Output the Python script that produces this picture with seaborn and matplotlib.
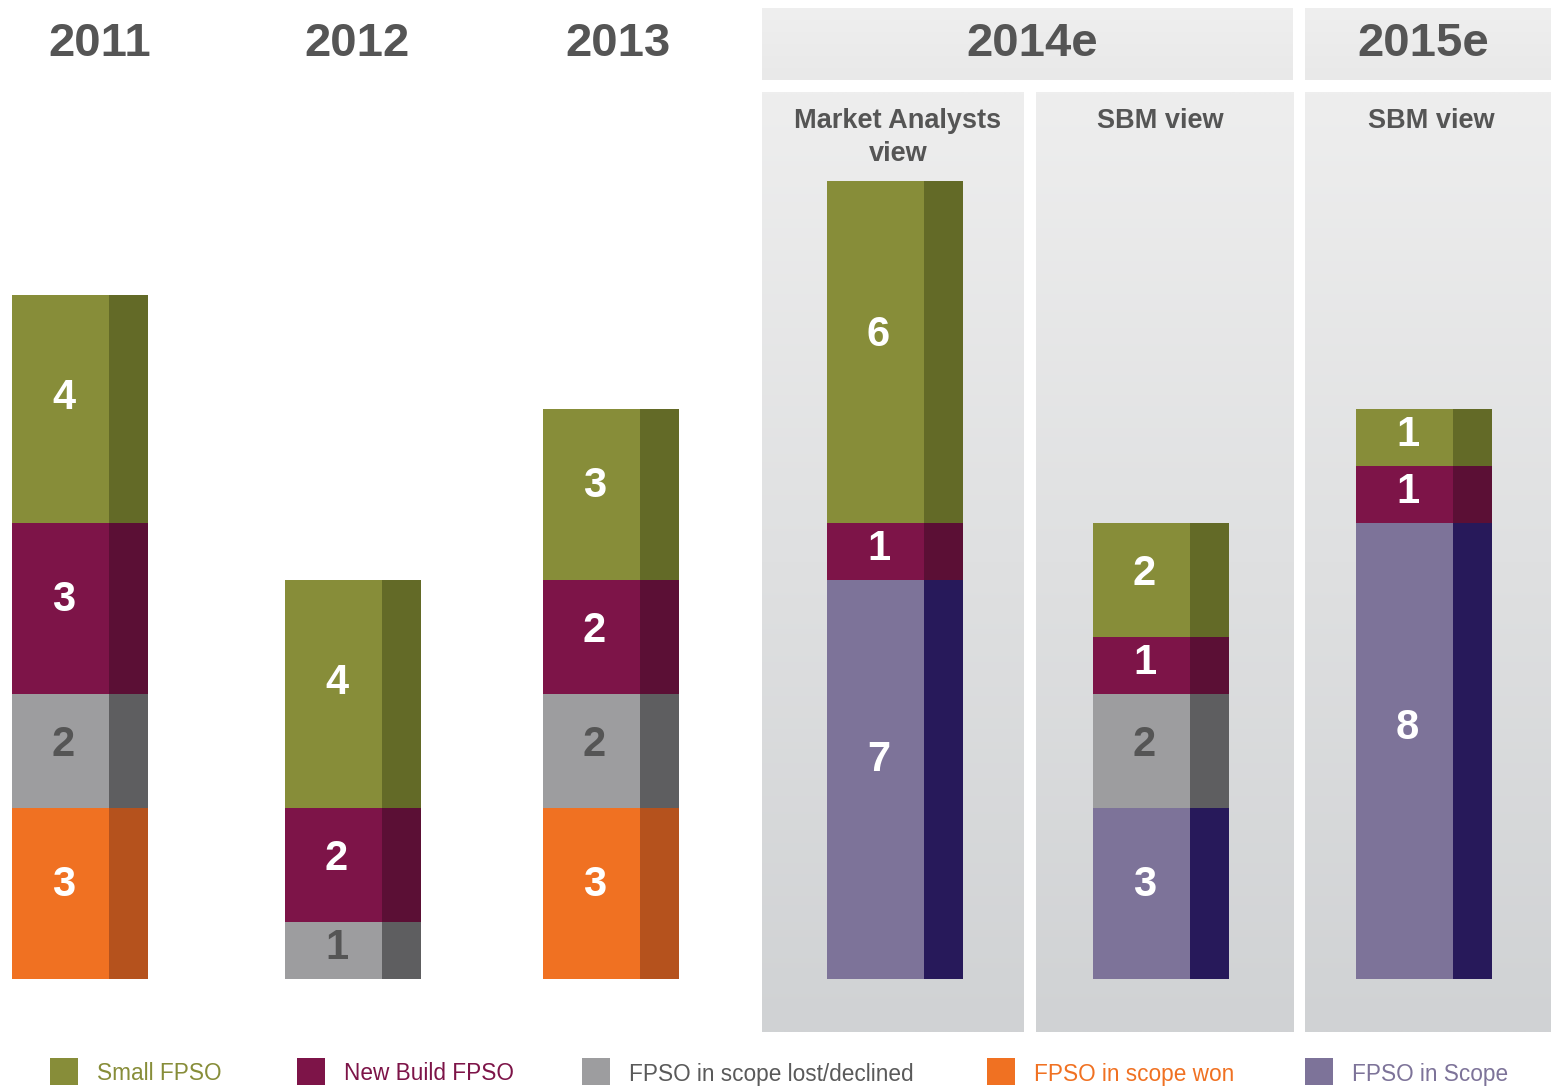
import numpy as np
import pandas as pd
import matplotlib
matplotlib.use("Agg")
import matplotlib.pyplot as plt
from matplotlib.patches import Rectangle
import seaborn as sns

# ---- data -------------------------------------------------------------
groups = ["2011", "2012", "2013", "2014e MA", "2014e SBM", "2015e SBM"]
in_scope = [0, 0, 0, 7, 3, 8]
won = [3, 0, 3, 0, 0, 0]
lost = [2, 1, 2, 0, 2, 0]
new_build = [3, 2, 2, 1, 1, 1]
small = [4, 4, 3, 6, 2, 1]

layer_names = ["FPSO in Scope", "FPSO in scope won", "FPSO in scope lost/declined",
               "New Build FPSO", "Small FPSO"]
layer_values = [in_scope, won, lost, new_build, small]
front_colors = ["#7d7399", "#f07122", "#9d9d9f", "#7d1448", "#878d39"]
side_colors = ["#27195a", "#b5521d", "#5e5e60", "#5b0f35", "#636a27"]
label_colors = ["white", "white", "#555555", "white", "white"]

legend_order = [4, 3, 2, 1, 0]
legend_text_colors = ["#7d7399", "#f07122", "#5a5a5a", "#7d1448", "#878d39"]

year_labels = ["2011", "2012", "2013"]
period_labels = ["2014e", "2015e"]
view_labels = ["Market Analysts\nview", "SBM view", "SBM view"]

# ---- layout (pixels) --------------------------------------------------
W, H = 1551, 1090
group_centers = np.array([80, 353, 611, 895, 1161, 1424], dtype=float)
px_per_unit = 57.0
baseline_px = 979.0

# ---- figure -----------------------------------------------------------
sns.set_theme(style="white")
plt.rcParams["font.family"] = ["Liberation Sans", "DejaVu Sans"]

fig = plt.figure(figsize=(W / 100, H / 100), dpi=100)
fig.patch.set_facecolor("white")

# decoration layer in pixel coordinates
bg = fig.add_axes([0, 0, 1, 1])
bg.axis("off")


def gradient_panel(ax, x0, x1, y0, y1, top, bottom):
    c0 = np.array(matplotlib.colors.to_rgb(top))
    c1 = np.array(matplotlib.colors.to_rgb(bottom))
    t = np.linspace(0, 1, 256)[:, None]
    img = (c0 + (c1 - c0) * t)[:, None, :].repeat(2, axis=1)
    ax.imshow(img, extent=(x0, x1, y1, y0), aspect="auto", zorder=0,
              interpolation="bilinear")


# header boxes
gradient_panel(bg, 762, 1293, 8, 80, "#efefef", "#e9e9e9")
gradient_panel(bg, 1305, 1551, 8, 80, "#efefef", "#e9e9e9")
# view panels
for x0, x1 in [(762, 1024), (1036, 1294), (1305, 1551)]:
    gradient_panel(bg, x0, x1, 92, 1032, "#eeeeee", "#d0d2d4")
bg.set_xlim(0, W)
bg.set_ylim(H, 0)

head_kw = dict(fontsize=34, fontweight="bold", color="#555555",
               ha="center", va="center")
for x, s in zip([100, 357, 618], year_labels):
    bg.text(x, 44, s, **head_kw)
for x, s in zip([1032, 1423], period_labels):
    bg.text(x, 44, s, **head_kw)

for x, s in zip([898, 1160, 1431], view_labels):
    bg.text(x, 108, s, fontsize=19.5, fontweight="bold", color="#555555",
            ha="center", va="top", linespacing=1.35)

# legend
leg_sq = [50, 297, 582, 987, 1305]
for xs, li in zip(leg_sq, legend_order):
    bg.add_patch(Rectangle((xs, 1058), 28, 27, facecolor=front_colors[li],
                           edgecolor="none"))
    bg.text(xs + 47, 1074, layer_names[li], fontsize=16.3,
            color=legend_text_colors[li], ha="left", va="center")

# ---- bars -------------------------------------------------------------
ax = fig.add_axes([0, 0, 1, 1])
ax.patch.set_alpha(0)

front_off, front_wpx = -19.5, 97.0
side_off, side_wpx = 48.5, 39.0
min_gap = np.diff(group_centers).min()

cum = np.cumsum(np.array(layer_values), axis=0)

# draw cumulative heights from the top layer down so lower layers cover
for li in reversed(range(len(layer_names))):
    df_front = pd.DataFrame({"x": group_centers + front_off, "y": cum[li]})
    df_side = pd.DataFrame({"x": group_centers + side_off, "y": cum[li]})
    sns.barplot(data=df_front, x="x", y="y", native_scale=True, orient="x",
                width=front_wpx / min_gap, color=front_colors[li], saturation=1,
                errorbar=None, linewidth=0, ax=ax)
    sns.barplot(data=df_side, x="x", y="y", native_scale=True, orient="x",
                width=side_wpx / min_gap, color=side_colors[li], saturation=1,
                errorbar=None, linewidth=0, ax=ax)

# segment value labels
bottoms = np.vstack([np.zeros(len(groups)), cum[:-1]])
for li in range(len(layer_names)):
    for gi in range(len(groups)):
        v = layer_values[li][gi]
        if v > 0:
            ax.text(group_centers[gi] + front_off + 3, bottoms[li][gi] + v * 0.55,
                    str(v), fontsize=30, fontweight="bold",
                    color=label_colors[li], ha="center", va="center")

ax.set_xlim(0, W)
ax.set_ylim((baseline_px - H) / px_per_unit, baseline_px / px_per_unit)
ax.axis("off")

fig.savefig("out.png", dpi=100, facecolor="white")
